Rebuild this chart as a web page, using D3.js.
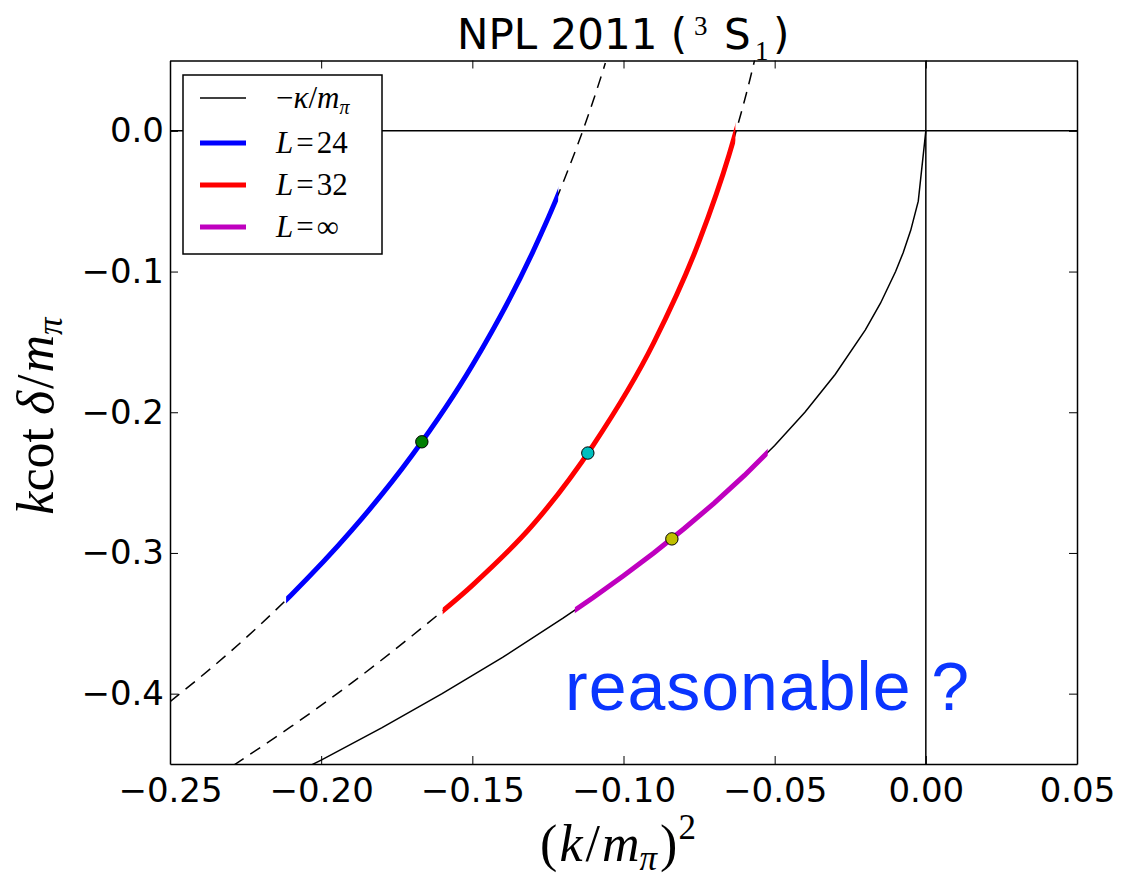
<!DOCTYPE html>
<html><head><meta charset="utf-8">
<script src="https://cdn.jsdelivr.net/npm/d3@7"></script>
<style>body{margin:0;background:#fff}</style>
</head><body>
<svg id="chart" width="1129" height="879"></svg>
<script>
// ---- datos ----
const xTicks = [-0.25, -0.20, -0.15, -0.10, -0.05, 0.00, 0.05];
const yTicks = [-0.4, -0.3, -0.2, -0.1, 0.0];

// -kappa/m_pi
const kappaX = [-0.25, -0.22, -0.20, -0.18, -0.16, -0.14, -0.12, -0.11, -0.10, -0.09, -0.08, -0.07,
  -0.06, -0.05, -0.04, -0.03, -0.02, -0.015, -0.01, -0.0075, -0.005, -0.0025, 0];
const kappaY = [-0.5, -0.469, -0.4472, -0.4243, -0.40, -0.3742, -0.3464, -0.3317, -0.3162, -0.30, -0.2828, -0.2646,
  -0.2449, -0.2236, -0.20, -0.1732, -0.1414, -0.1225, -0.10, -0.0866, -0.0707, -0.05, 0];

// L = 24
const l24X = [-0.25, -0.23, -0.21, -0.19, -0.17, -0.15, -0.13, -0.12, -0.11, -0.106];
const l24Y = [-0.4057, -0.3701, -0.3300, -0.2842, -0.2308, -0.1666, -0.0861, -0.0368, 0.0215, 0.0482];
// L = 32
const l32X = [-0.24, -0.228, -0.21, -0.19, -0.17, -0.15, -0.13, -0.11, -0.09, -0.075, -0.065, -0.058, -0.056];
const l32Y = [-0.4665, -0.4495, -0.4235, -0.3925, -0.359, -0.323, -0.2801, -0.2233, -0.1506, -0.0786, -0.0164, 0.0381, 0.0560];

// tramos sólidos (rango en x)
const l24Solid = [-0.2116, -0.1216];
const l32Solid = [-0.1598, -0.0630];
const linfSolid = [-0.1161, -0.0523];

const markerX = [-0.1667, -0.1118, -0.084];
const markerY = [-0.221, -0.229, -0.290];
const markerColor = ['#007f00', '#00bfbf', '#bfbf00'];

const legendKeys = ['kappa', '24', '32', '∞'];
const legendColors = ['#000', '#0000ff', '#ff0000', '#bf00bf'];

// ---- dibujo ----
const svg = d3.select('#chart');
const L = 170, R = 1077, T = 60.5, B = 764;
const x = d3.scaleLinear().domain([-0.25, 0.05]).range([L, R]);
const y = d3.scaleLinear().domain([-0.45, 0.05]).range([B, T]);

const defs = svg.append('defs');
defs.append('clipPath').attr('id', 'plot')
  .append('rect').attr('x', L).attr('y', T).attr('width', R - L).attr('height', B - T);
function addClip(id, rng) {
  defs.append('clipPath').attr('id', id)
    .append('rect').attr('x', x(rng[0])).attr('y', T)
    .attr('width', x(rng[1]) - x(rng[0])).attr('height', B - T);
}
addClip('c24', l24Solid); addClip('c32', l32Solid); addClip('cinf', linfSolid);

const pts = (xs, ys) => xs.map((v, i) => [v, ys[i]]);
const lineLin = d3.line().x(d => x(d[0])).y(d => y(d[1]));
const lineSm = d3.line().x(d => x(d[0])).y(d => y(d[1])).curve(d3.curveMonotoneX);

const g = svg.append('g').attr('clip-path', 'url(#plot)');

// ejes de referencia en 0
g.append('line').attr('x1', L).attr('x2', R).attr('y1', y(0)).attr('y2', y(0))
  .attr('stroke', '#000').attr('stroke-width', 1.5);
g.append('line').attr('x1', x(0)).attr('x2', x(0)).attr('y1', T).attr('y2', B)
  .attr('stroke', '#000').attr('stroke-width', 1.5);

const kap = pts(kappaX, kappaY), c24 = pts(l24X, l24Y), c32 = pts(l32X, l32Y);

g.append('path').attr('d', lineLin(kap)).attr('fill', 'none').attr('stroke', '#000').attr('stroke-width', 1.5);
[c24, c32].forEach(c => g.append('path').attr('d', lineSm(c)).attr('fill', 'none')
  .attr('stroke', '#000').attr('stroke-width', 1.5).attr('stroke-dasharray', '12,8'));

g.append('g').attr('clip-path', 'url(#c24)').append('path').attr('d', lineSm(c24))
  .attr('fill', 'none').attr('stroke', '#0000ff').attr('stroke-width', 5);
g.append('g').attr('clip-path', 'url(#c32)').append('path').attr('d', lineSm(c32))
  .attr('fill', 'none').attr('stroke', '#ff0000').attr('stroke-width', 5);
g.append('g').attr('clip-path', 'url(#cinf)').append('path').attr('d', lineLin(kap))
  .attr('fill', 'none').attr('stroke', '#bf00bf').attr('stroke-width', 5);

g.selectAll('circle.m').data(markerX).join('circle')
  .attr('cx', d => x(d)).attr('cy', (d, i) => y(markerY[i])).attr('r', 6.2)
  .attr('fill', (d, i) => markerColor[i]).attr('stroke', '#000').attr('stroke-width', 1);

// anotación
svg.append('text').attr('x', 565).attr('y', 710)
  .attr('font-family', '"Liberation Sans", Arial, sans-serif').attr('font-size', 68)
  .attr('letter-spacing', 1).attr('fill', '#0a35ff').text('reasonable ?');

// ejes
const fmtX = d3.format('.2f'), fmtY = d3.format('.1f');
const axStyle = sel => {
  sel.select('.domain').attr('stroke', '#000').attr('stroke-width', 1.5).attr('fill', 'none');
  sel.selectAll('.tick line').attr('stroke', '#000').attr('stroke-width', 1);
  sel.selectAll('.tick text').attr('font-family', '"DejaVu Sans", sans-serif')
    .attr('font-size', 34).attr('fill', '#000');
};
svg.append('g').attr('transform', `translate(0,${B})`)
  .call(d3.axisBottom(x).tickValues(xTicks).tickFormat(fmtX).tickSizeInner(-8).tickSizeOuter(0).tickPadding(14))
  .call(axStyle);
svg.append('g').attr('transform', `translate(0,${T})`)
  .call(d3.axisTop(x).tickValues(xTicks).tickFormat('').tickSizeInner(-8).tickSizeOuter(0))
  .call(axStyle);
svg.append('g').attr('transform', `translate(${L},0)`)
  .call(d3.axisLeft(y).tickValues(yTicks).tickFormat(fmtY).tickSizeInner(-8).tickSizeOuter(0).tickPadding(6))
  .call(axStyle);
svg.append('g').attr('transform', `translate(${R},0)`)
  .call(d3.axisRight(y).tickValues(yTicks).tickFormat('').tickSizeInner(-8).tickSizeOuter(0))
  .call(axStyle);

// título
const serif = '"Liberation Serif", "Times New Roman", serif';
const title = svg.append('text').attr('y', 49)
  .attr('font-family', '"DejaVu Sans", sans-serif').attr('font-size', 42).attr('fill', '#000');
title.append('tspan').attr('x', 457).text('NPL 2011 (');
title.append('tspan').attr('x', 694).attr('y', 35).attr('font-size', 27).attr('font-family', serif).text('3');
title.append('tspan').attr('x', 724).attr('y', 49).text('S');
title.append('tspan').attr('x', 755).attr('y', 60).attr('font-size', 27).attr('font-family', serif).text('1');
title.append('tspan').attr('x', 773).attr('y', 49).text(')');

// etiqueta eje x
const xl = svg.append('text').attr('x', 618).attr('y', 861).attr('text-anchor', 'middle')
  .attr('font-family', serif).attr('font-size', 52).attr('fill', '#000');
xl.append('tspan').text('(');
xl.append('tspan').attr('font-style', 'italic').attr('dx', 2).text('k');
xl.append('tspan').attr('dx', 3).text('/');
xl.append('tspan').attr('font-style', 'italic').attr('dx', 2).text('m');
xl.append('tspan').attr('font-style', 'italic').attr('font-size', 35).attr('dy', 9).text('π');
xl.append('tspan').attr('dy', -9).attr('dx', 3).text(')');
xl.append('tspan').attr('font-size', 35).attr('dy', -22).attr('dx', 1).text('2');

// etiqueta eje y
const yl = svg.append('text').attr('transform', 'translate(53,416) rotate(-90)').attr('text-anchor', 'middle')
  .attr('font-family', serif).attr('font-size', 52).attr('fill', '#000');
yl.append('tspan').attr('font-style', 'italic').text('k');
yl.append('tspan').text('cot ');
yl.append('tspan').attr('font-style', 'italic').text('δ');
yl.append('tspan').attr('dx', 2).text('/');
yl.append('tspan').attr('font-style', 'italic').attr('dx', 2).text('m');
yl.append('tspan').attr('font-style', 'italic').attr('font-size', 35).attr('dy', 9).text('π');

// leyenda
const lg = svg.append('g');
lg.append('rect').attr('x', 183).attr('y', 75).attr('width', 199).attr('height', 179)
  .attr('fill', '#fff').attr('stroke', '#000').attr('stroke-width', 1.5);
const rowY = [98, 143, 185, 227];
legendKeys.forEach((k, i) => {
  lg.append('line').attr('x1', 200).attr('x2', 246).attr('y1', rowY[i]).attr('y2', rowY[i])
    .attr('stroke', legendColors[i]).attr('stroke-width', i === 0 ? 1.5 : 5);
  const t = lg.append('text').attr('x', 276).attr('y', rowY[i] + 10)
    .attr('font-family', serif).attr('font-size', 31).attr('fill', '#000');
  if (k === 'kappa') {
    t.append('tspan').text('−');
    t.append('tspan').attr('font-style', 'italic').text('κ');
    t.append('tspan').text('/');
    t.append('tspan').attr('font-style', 'italic').text('m');
    t.append('tspan').attr('font-style', 'italic').attr('font-size', 20).attr('dy', 6).text('π');
  } else {
    t.append('tspan').attr('font-style', 'italic').text('L');
    t.append('tspan').attr('dx', 3).text('=');
    t.append('tspan').attr('dx', 3).text(k);
  }
});
</script>
</body></html>
